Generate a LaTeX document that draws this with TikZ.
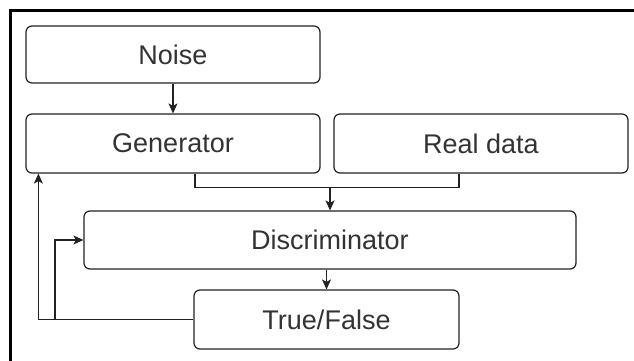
\documentclass[tikz,border=0pt]{standalone}
\usepackage{fontspec}
\setmainfont{Liberation Sans}
\usetikzlibrary{arrows.meta,calc}
\definecolor{ink}{HTML}{222222}
\definecolor{txt}{HTML}{333333}
\begin{document}
\begin{tikzpicture}[x=1pt,y=-1pt,
  block/.style={draw=ink,line width=1.2pt,rounded corners=6pt,fill=white,
    inner sep=0pt,text=txt,font=\fontsize{27}{32}\selectfont},
  link/.style={draw=ink,line width=1.2pt},
  arr/.style={link,-{Stealth[length=10pt,width=9pt,inset=2.5pt]}}]
  \useasboundingbox (0,0) rectangle (634,361);
  \fill[white] (0,0) rectangle (634,361);
  % outer frame, top and left edges
  \draw[line width=3pt,black] (634,10.5) -- (10.5,10.5) -- (10.5,361);

  \node[block,minimum width=294pt,minimum height=57pt] (noise) at (173,54.5) {Noise};
  \node[block,minimum width=294pt,minimum height=59pt] (gen) at (173,143.5) {Generator};
  \node[block,minimum width=294pt,minimum height=59pt] (real) at (481,143.5) {Real data};
  \node[block,minimum width=492pt,minimum height=58pt] (disc) at (330,240) {Discriminator};
  \node[block,minimum width=265pt,minimum height=59pt] (tf) at (326.5,319.5) {True/False};

  \draw[arr] (noise) -- (gen);
  % generated and real samples merge into the discriminator
  \draw[link] ([xshift=22pt]gen.south) -- ++(0,14) coordinate (j)
    -| ([xshift=-22pt]real.south);
  \draw[arr] (j -| disc.north) -- (disc.north);
  \draw[arr] (disc.south -| tf.north) -- (tf.north);
  % feedback from the verdict to both networks
  \draw[arr] (tf.west) -| ([xshift=13pt]gen.south west);
  \coordinate (b) at (55,0);
  \draw[arr] (tf.west -| b) |- (disc.west);
\end{tikzpicture}
\end{document}
